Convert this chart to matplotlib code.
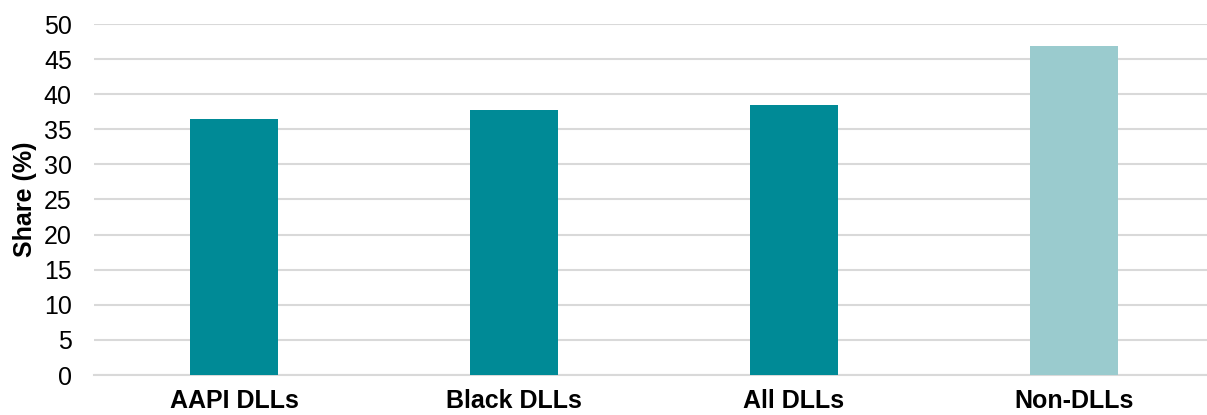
import matplotlib

matplotlib.use("Agg")
import matplotlib.pyplot as plt

plt.rcParams["font.family"] = ["Liberation Sans", "DejaVu Sans"]

categories = ["AAPI DLLs", "Black DLLs", "All DLLs", "Non-DLLs"]
shares = [36.5, 37.8, 38.5, 46.9]
bar_colors = ["#008A96", "#008A96", "#008A96", "#9ACBCE"]
y_ticks = [0, 5, 10, 15, 20, 25, 30, 35, 40, 45, 50]

fig = plt.figure(figsize=(12.07, 4.15), dpi=100)
ax = fig.add_axes([94 / 1207, 40 / 415, 1120 / 1207, 351 / 415])

x = list(range(len(categories)))
ax.bar(x, shares, width=0.314, color=bar_colors, zorder=3)

ax.set_xlim(-0.5, 3.5)
ax.set_ylim(0, 50)
ax.set_yticks(y_ticks)
ax.set_xticks(x)
ax.set_xticklabels(categories, fontweight="bold", fontsize=18)
ax.tick_params(axis="y", labelsize=18, length=0, pad=16)
ax.tick_params(axis="x", length=0, pad=10)
ax.set_ylabel("Share (%)", fontweight="bold", fontsize=18, labelpad=5)

ax.grid(axis="y", color="#D9D9D9", linewidth=1.5, zorder=0)
for side in ["top", "right", "left"]:
    ax.spines[side].set_visible(False)
ax.spines["bottom"].set_color("#D9D9D9")
ax.spines["bottom"].set_linewidth(1.5)

fig.savefig("out.png", dpi=100)
